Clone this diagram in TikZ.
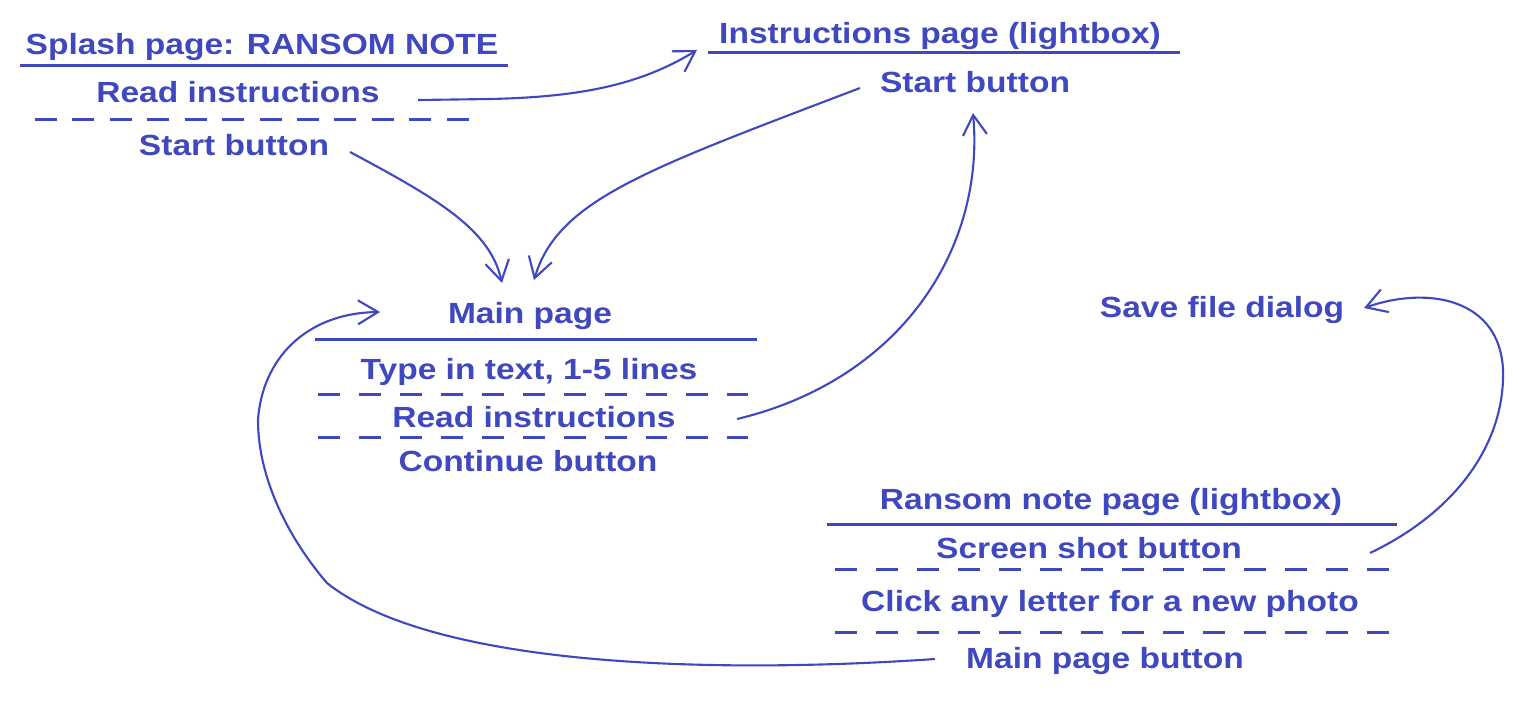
\documentclass[tikz,border=0pt]{standalone}
\usepackage{fontspec}
\usepackage{xcolor}
\usepackage{tikz}
\usetikzlibrary{calc,arrows.meta}
\newfontfamily\notefont{Liberation Sans}[FakeStretch=1.15]
\definecolor{inkblue}{RGB}{64,72,192}

\begin{document}
\begin{tikzpicture}[x=0.02cm, y=-0.02cm,
    lbl/.style={anchor=base, inner sep=0pt, text=inkblue,
                font=\notefont\bfseries\fontsize{16.6}{20}\selectfont},
    rule/.style={draw=inkblue, line width=1.7pt},
    dashrule/.style={rule, dash pattern=on 12.5pt off 10.8pt},
    arr/.style={draw=inkblue, line width=1.2pt, -{Straight Barb[length=4mm,width=4.8mm]}}
]
    \useasboundingbox (0,0) rectangle (1520,708);

    % splash page
    \node[lbl] (splashT) at (262,54) {Splash page: RANSOM NOTE};
    \node[lbl] (readA) at (238,102) {Read instructions};
    \node[lbl] (startA) at (234,155) {Start button};
    \draw[rule] (20,65) -- (508,65);
    \draw[dashrule, dash pattern=on 12.5pt off 8.8pt] (35,119) -- (470,119);

    % instructions lightbox
    \node[lbl] (instrT) at (940,43) {Instructions page (lightbox)};
    \node[lbl] (startB) at (975,92) {Start button};
    \draw[rule] (708,52) -- (1180,52);

    % main page
    \node[lbl] (mainT) at (530,323) {Main page};
    \node[lbl] (typeT) at (529,379) {Type in text, 1-5 lines};
    \node[lbl] (readB) at (534,427) {Read instructions};
    \node[lbl] (contB) at (528,471) {Continue button};
    \draw[rule] (315,339) -- (757,339);
    \draw[dashrule] (318,394) -- (748,394);
    \draw[dashrule] (318,437) -- (748,437);

    % save dialog
    \node[lbl] (saveD) at (1222,317) {Save file dialog};

    % ransom note lightbox
    \node[lbl] (ransomT) at (1111,509) {Ransom note page (lightbox)};
    \node[lbl] (shotB) at (1089,558) {Screen shot button};
    \node[lbl] (clickL) at (1110,611) {Click any letter for a new photo};
    \node[lbl] (mainB) at (1105,668) {Main page button};
    \draw[rule] (827,524) -- (1397,524);
    \draw[dashrule] (835,569) -- (1390,569);
    \draw[dashrule] (835,632) -- (1390,632);

    % arrows
    \draw[arr] ($(readA.base)+(180,-2)$) -- (490,99)
        .. controls (580,97) and (640,85) .. ($(instrT.base)+(-243,7)$);
    \draw[arr] ($(startA.base)+(116,-3)$)
        .. controls (440,200) and (490,230) .. ($(mainT.base)+(-28,-40)$);
    \draw[arr] ($(startB.base)+(-115,-4)$)
        .. controls (645,170) and (558,200) .. ($(mainT.base)+(4,-43)$);
    \draw[arr] ($(readB.base)+(203,-8)$)
        .. controls (900,380) and (985,250) .. ($(startB.base)+(-2,21)$);
    \draw[arr] ($(shotB.base)+(281,-5)$)
        .. controls (1460,510) and (1505,440) .. (1503,370)
        .. controls (1500,300) and (1430,285) .. ($(saveD.base)+(142,-9)$);
    \draw[arr] ($(mainB.base)+(-170,-9)$)
        .. controls (700,675) and (430,665) .. (327,583)
        .. controls (290,540) and (258,480) .. (258,420)
        .. controls (262,360) and (305,313) .. ($(mainT.base)+(-150,-11)$);
\end{tikzpicture}
\end{document}
